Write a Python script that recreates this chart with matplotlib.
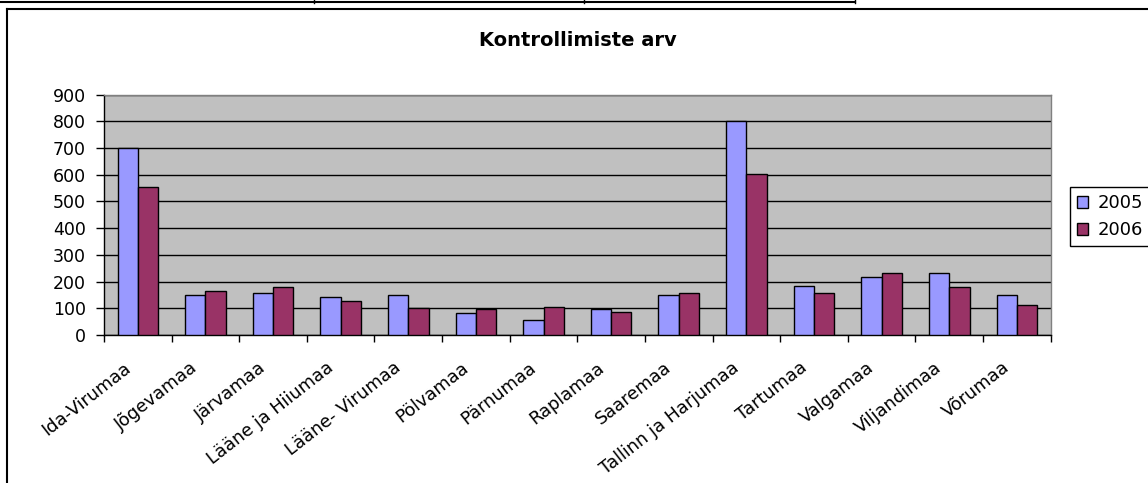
import matplotlib
matplotlib.use("Agg")
import matplotlib.pyplot as plt
from matplotlib.lines import Line2D
import matplotlib.transforms as mtransforms
import numpy as np

plt.rcParams['font.family'] = ['DejaVu Sans']

title = "Kontrollimiste arv"
regions = ["Ida-Virumaa", "Jõgevamaa", "Järvamaa", "Lääne ja Hiiumaa", "Lääne- Virumaa",
           "Pölvamaa", "Pärnumaa", "Raplamaa", "Saaremaa", "Tallinn ja Harjumaa",
           "Tartumaa", "Valgamaa", "Viljandimaa", "Võrumaa"]
series_names = ["2005", "2006"]
v2005 = [700, 148, 158, 142, 148, 81, 56, 97, 148, 803, 184, 219, 231, 149]
v2006 = [556, 163, 178, 129, 100, 96, 106, 86, 159, 604, 159, 231, 179, 111]
yticks = [0, 100, 200, 300, 400, 500, 600, 700, 800, 900]

W, H = 1148, 483
fig = plt.figure(figsize=(W / 100, H / 100), dpi=100)
fig.patch.set_facecolor("white")

def px(x, y):
    return x / W, 1 - y / H

lw_frame = 1.5
fig.add_artist(Line2D([px(7, 0)[0], 1.0], [px(0, 9)[1]] * 2, color="black", lw=lw_frame, transform=fig.transFigure))
fig.add_artist(Line2D([px(7, 0)[0]] * 2, [px(0, 9)[1], 0.0], color="black", lw=lw_frame, transform=fig.transFigure))
fig.add_artist(Line2D([0, px(855, 0)[0]], [px(0, 1.5)[1]] * 2, color="black", lw=lw_frame, transform=fig.transFigure))
for xx in (314, 584, 855):
    fig.add_artist(Line2D([px(xx, 0)[0]] * 2, [1.0, px(0, 3)[1]], color="black", lw=1.0, transform=fig.transFigure))

left, right, top, bottom = 104, 1050.7, 94.7, 335
ax = fig.add_axes([left / W, 1 - bottom / H, (right - left) / W, (bottom - top) / H])
ax.set_facecolor("#C0C0C0")

n = len(regions)
x = np.arange(n)
bw = 0.3
ax.bar(x - bw / 2, v2005, bw, color="#9999FF", edgecolor="black", linewidth=1.0, label=series_names[0], zorder=3)
ax.bar(x + bw / 2, v2006, bw, color="#993366", edgecolor="black", linewidth=1.0, label=series_names[1], zorder=3)

ax.set_xlim(-0.5, n - 0.5)
ax.set_ylim(0, 900)
ax.set_yticks(yticks)
ax.set_yticklabels([str(t) for t in yticks], fontsize=12.5)
ax.yaxis.grid(True, color="black", linewidth=1.0, zorder=1)
ax.set_axisbelow(True)

ax.set_xticks(x)
ax.set_xticklabels(regions, rotation=38, ha="right", va="top", rotation_mode="anchor", fontsize=12.8)
ax.set_xticks(np.arange(n + 1) - 0.5, minor=True)
ax.tick_params(axis="x", which="major", length=0, pad=9)
ax.tick_params(axis="x", which="minor", length=5, width=1, color="black")
ax.tick_params(axis="y", length=6, width=1, color="black", pad=7)

offset = mtransforms.ScaledTranslation(-15 / 100, -11 / 100, fig.dpi_scale_trans)
for lab in ax.get_xticklabels():
    lab.set_transform(lab.get_transform() + offset)

for s in ("left", "bottom"):
    ax.spines[s].set_color("black")
    ax.spines[s].set_linewidth(1.0)
for s in ("top", "right"):
    ax.spines[s].set_color("#808080")
    ax.spines[s].set_linewidth(1.0)

fig.text(578 / W, 1 - 40 / H, title, ha="center", va="center", fontsize=14, fontweight="bold")

leg = fig.legend(loc="upper left", bbox_to_anchor=(1070 / W, 1 - 187 / H), fontsize=13,
                 frameon=True, fancybox=False, edgecolor="black", framealpha=1,
                 handlelength=0.62, handleheight=0.62, handletextpad=0.5,
                 borderpad=0.4, labelspacing=0.5, borderaxespad=0)
leg.get_frame().set_linewidth(1.0)

fig.savefig("out.png", dpi=100)
